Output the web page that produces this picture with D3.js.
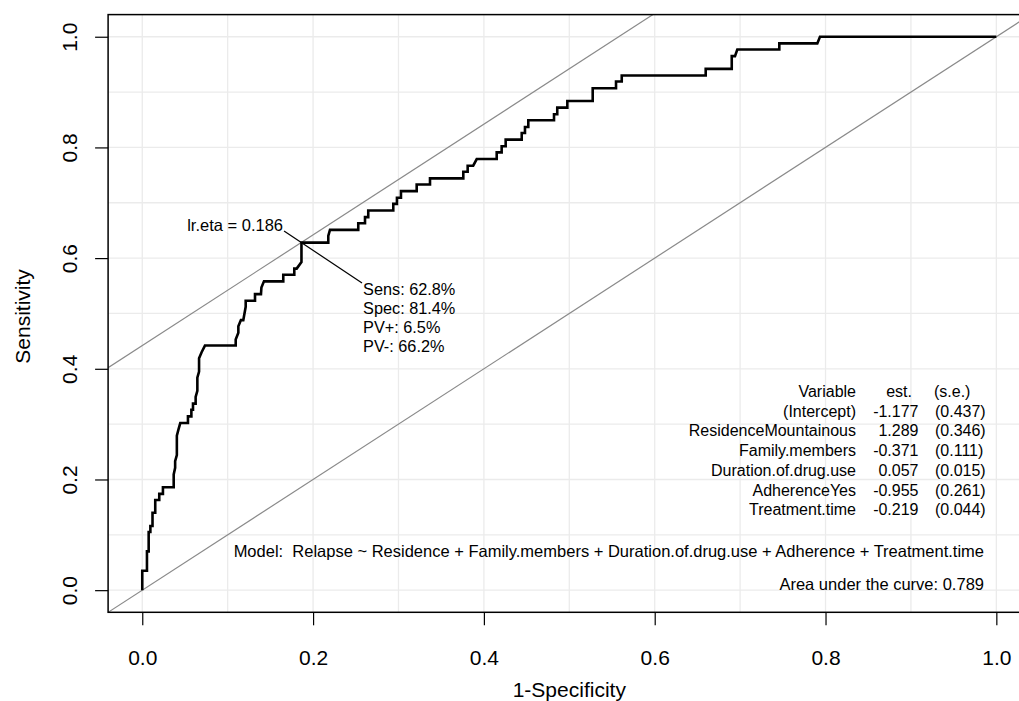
<!DOCTYPE html>
<html>
<head>
<meta charset="utf-8">
<script src="https://cdn.jsdelivr.net/npm/d3@7"></script>
<style>
  body { margin: 0; background: #fff; }
  svg { display: block; font-family: "Liberation Sans", Arial, sans-serif; }
</style>
</head>
<body>
<div id="chart"></div>
<script>
const AREA_WIDTH = 1019;
const AREA_HEIGHT = 701;

// ROC staircase, 1-specificity vs sensitivity (n positives = 86)
const fpr = [0, 0, 0.0055, 0.0055, 0.0075, 0.0075, 0.0095, 0.0095, 0.012, 0.012, 0.0152, 0.0152, 0.0199, 0.0199,
  0.0242, 0.0242, 0.0368, 0.0368, 0.0385, 0.0385, 0.0405, 0.0405, 0.0425, 0.0445, 0.0535, 0.0535, 0.0575, 0.0575,
  0.0594, 0.0594, 0.0625, 0.0625, 0.0645, 0.0645, 0.0665, 0.0665, 0.0695, 0.0734, 0.1094, 0.1094, 0.1125, 0.1125,
  0.1155, 0.1183, 0.1211, 0.1211, 0.132, 0.132, 0.139, 0.1395, 0.1425, 0.1651, 0.1651, 0.178, 0.178, 0.1808, 0.1864,
  0.1864, 0.2178, 0.2178, 0.2198, 0.2529, 0.2529, 0.2608, 0.2608, 0.2646, 0.2646, 0.2939, 0.2939, 0.2982, 0.2982,
  0.3029, 0.3029, 0.3213, 0.3213, 0.3369, 0.3369, 0.3759, 0.3759, 0.381, 0.381, 0.3875, 0.3916, 0.415, 0.415, 0.4208,
  0.4208, 0.4255, 0.4255, 0.4443, 0.4443, 0.4481, 0.4481, 0.452, 0.452, 0.4821, 0.4821, 0.4859, 0.4859, 0.4977,
  0.4977, 0.5274, 0.5274, 0.5547, 0.5547, 0.5614, 0.5614, 0.6597, 0.6597, 0.6902, 0.6902, 0.694, 0.6967, 0.7459,
  0.7459, 0.7904, 0.7935, 1];
const tpr = [0, 0.035, 0.035, 0.07, 0.07, 0.105, 0.105, 0.116, 0.116, 0.14, 0.14, 0.163, 0.163, 0.174,
  0.174, 0.186, 0.186, 0.209, 0.221, 0.233, 0.244, 0.279, 0.291, 0.302, 0.302, 0.314, 0.314, 0.326,
  0.326, 0.337, 0.337, 0.349, 0.36, 0.384, 0.395, 0.419, 0.43, 0.442, 0.442, 0.453, 0.465, 0.477,
  0.488, 0.488, 0.512, 0.523, 0.523, 0.535, 0.535, 0.547, 0.558, 0.558, 0.57, 0.57, 0.581, 0.581, 0.593,
  0.628, 0.628, 0.64, 0.651, 0.651, 0.663, 0.663, 0.674, 0.674, 0.686, 0.686, 0.698, 0.698, 0.709,
  0.709, 0.721, 0.721, 0.733, 0.733, 0.744, 0.744, 0.756, 0.756, 0.767, 0.767, 0.779, 0.779, 0.791, 0.791,
  0.802, 0.802, 0.814, 0.814, 0.826, 0.826, 0.837, 0.837, 0.849, 0.849, 0.86, 0.86, 0.872, 0.872,
  0.884, 0.884, 0.907, 0.907, 0.919, 0.919, 0.93, 0.93, 0.942, 0.942, 0.965, 0.965, 0.977, 0.977,
  0.988, 0.988, 1, 1];

const TICKS = [0, 0.2, 0.4, 0.6, 0.8, 1.0];
const GRID = [0, 0.1, 0.2, 0.3, 0.4, 0.5, 0.6, 0.7, 0.8, 0.9, 1.0];

const optimal = { fpr: 0.186, sens: 0.628 };
const optLabel = 'lr.eta = 0.186';
const optStats = ['Sens: 62.8%', 'Spec: 81.4%', 'PV+: 6.5%', 'PV-: 66.2%'];

const varNames = ['(Intercept)', 'ResidenceMountainous', 'Family.members', 'Duration.of.drug.use', 'AdherenceYes', 'Treatment.time'];
const estimates = ['-1.177', '1.289', '-0.371', '0.057', '-0.955', '-0.219'];
const stdErrors = ['(0.437)', '(0.346)', '(0.111)', '(0.015)', '(0.261)', '(0.044)'];
const modelText = 'Model:  Relapse ~ Residence + Family.members + Duration.of.drug.use + Adherence + Treatment.time';
const aucText = 'Area under the curve: 0.789';

const svg = d3.select('#chart')
              .append('svg')
              .attr('width', AREA_WIDTH)
              .attr('height', AREA_HEIGHT);

const x = d3.scaleLinear().domain([-0.04, 1.04]).range([108.1, 1030.5]);
const y = d3.scaleLinear().domain([-0.04, 1.04]).range([612.3, 14.6]);

svg.append('clipPath')
     .attr('id', 'plotclip')
   .append('rect')
     .attr('x', x(-0.04)).attr('y', y(1.04))
     .attr('width', x(1.04) - x(-0.04))
     .attr('height', y(-0.04) - y(1.04));

const plot = svg.append('g').attr('clip-path', 'url(#plotclip)');

// grid
plot.selectAll('.vgrid')
      .data(GRID)
      .enter()
      .append('line')
      .attr('x1', d => x(d)).attr('x2', d => x(d))
      .attr('y1', y(-0.04)).attr('y2', y(1.04))
      .attr('stroke', '#ebebeb')
      .attr('stroke-width', 1.3);
plot.selectAll('.hgrid')
      .data(GRID)
      .enter()
      .append('line')
      .attr('y1', d => y(d)).attr('y2', d => y(d))
      .attr('x1', x(-0.04)).attr('x2', x(1.04))
      .attr('stroke', '#ebebeb')
      .attr('stroke-width', 1.3);

// reference lines: diagonal and tangent at optimal cut-off (slope 1)
const intercept = optimal.sens - optimal.fpr;
plot.append('line')
      .attr('x1', x(-0.04)).attr('y1', y(-0.04))
      .attr('x2', x(1.04)).attr('y2', y(1.04))
      .attr('stroke', '#8a8a8a').attr('stroke-width', 1.2);
plot.append('line')
      .attr('x1', x(-0.04)).attr('y1', y(-0.04 + intercept))
      .attr('x2', x(1.04 - intercept)).attr('y2', y(1.04))
      .attr('stroke', '#8a8a8a').attr('stroke-width', 1.2);

// ROC curve
const points = fpr.map((d, i) => [d, tpr[i]]);
plot.append('path')
      .datum(points)
      .attr('fill', 'none')
      .attr('stroke', '#000')
      .attr('stroke-width', 2.6)
      .attr('stroke-linejoin', 'miter')
      .attr('d', d3.line().x(d => x(d[0])).y(d => y(d[1])));

// pointer line through the optimal point
const labelPos = [0.166, 0.649];
const statsPos = [0.2573, 0.555];
plot.append('line')
      .attr('x1', x(labelPos[0])).attr('y1', y(labelPos[1]))
      .attr('x2', x(statsPos[0])).attr('y2', y(statsPos[1]))
      .attr('stroke', '#000').attr('stroke-width', 1.2);

svg.append('text')
     .attr('x', x(labelPos[0]) - 1)
     .attr('y', y(labelPos[1]))
     .attr('text-anchor', 'end')
     .style('font-size', '16.5px')
     .text(optLabel);

svg.selectAll('.stat')
     .data(optStats)
     .enter()
     .append('text')
     .attr('x', x(statsPos[0]) + 1)
     .attr('y', (d, i) => y(statsPos[1]) + 12 + i * 19)
     .style('font-size', '16.3px')
     .text(d => d);

// coefficient table
const tableTop = 397;
const rowH = 19.7;
const table = svg.append('g').style('font-size', '16px');
table.append('text').attr('x', 856).attr('y', tableTop).attr('text-anchor', 'end').text('Variable');
table.append('text').attr('x', 912).attr('y', tableTop).attr('text-anchor', 'end').text('est.');
table.append('text').attr('x', 934).attr('y', tableTop).text('(s.e.)');
varNames.forEach((v, i) => {
  const ty = tableTop + (i + 1) * rowH;
  table.append('text').attr('x', 856).attr('y', ty).attr('text-anchor', 'end').text(v);
  table.append('text').attr('x', 918.5).attr('y', ty).attr('text-anchor', 'end').text(estimates[i]);
  table.append('text').attr('x', 935).attr('y', ty).text(stdErrors[i]);
});

svg.append('text')
     .attr('x', 984).attr('y', 557)
     .attr('text-anchor', 'end')
     .style('font-size', '16.5px')
     .style('white-space', 'pre')
     .text(modelText);
svg.append('text')
     .attr('x', 984).attr('y', 590)
     .attr('text-anchor', 'end')
     .style('font-size', '16.5px')
     .text(aucText);

// box
svg.append('rect')
     .attr('x', x(-0.04)).attr('y', y(1.04))
     .attr('width', x(1.04) - x(-0.04))
     .attr('height', y(-0.04) - y(1.04))
     .attr('fill', 'none')
     .attr('stroke', '#000')
     .attr('stroke-width', 1.5);

// axes
const xAxis = svg.append('g')
                   .attr('transform', `translate(0, ${y(-0.04)})`)
                   .call(d3.axisBottom(x).tickValues(TICKS).tickFormat(d3.format('.1f')).tickSize(13));
const yAxis = svg.append('g')
                   .attr('transform', `translate(${x(-0.04)}, 0)`)
                   .call(d3.axisLeft(y).tickValues(TICKS).tickFormat(d3.format('.1f')).tickSize(13));
[xAxis, yAxis].forEach(a => {
  a.select('.domain').remove();
  a.selectAll('.tick line').attr('stroke', '#000').attr('stroke-width', 1.2);
  a.selectAll('.tick text')
     .attr('fill', '#000')
     .style('font-family', '"Liberation Sans", Arial, sans-serif')
     .style('font-size', '21px');
});
xAxis.selectAll('.tick text').attr('dy', '0.35em').attr('y', 45);
yAxis.selectAll('.tick text')
       .attr('x', null).attr('dy', null)
       .attr('text-anchor', 'middle')
       .attr('transform', 'translate(-31, 0) rotate(-90)');

svg.append('text')
     .attr('x', (x(-0.04) + x(1.04)) / 2)
     .attr('y', 697)
     .attr('text-anchor', 'middle')
     .style('font-size', '21px')
     .text('1-Specificity');
svg.append('text')
     .attr('transform', `translate(30, ${(y(-0.04) + y(1.04)) / 2 + 3}) rotate(-90)`)
     .attr('text-anchor', 'middle')
     .style('font-size', '21px')
     .text('Sensitivity');
</script>
</body>
</html>
